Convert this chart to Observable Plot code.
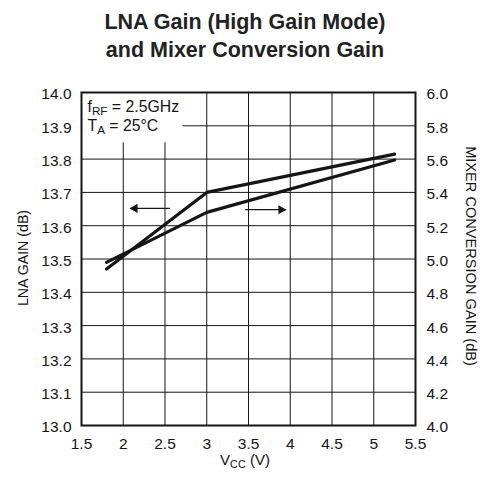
<!DOCTYPE html>
<html>
<head>
<meta charset="utf-8">
<script src="https://cdn.jsdelivr.net/npm/d3@7"></script>
<script src="https://cdn.jsdelivr.net/npm/@observablehq/plot@0.6"></script>
<style>
  body { margin: 0; background: #fff; }
  #title { width: 490px; height: 70px; box-sizing: border-box; padding-top: 8px; text-align: center;
    font: bold 21.5px/28px "Liberation Sans", Arial, sans-serif; color: #222; }
  #chart svg { display: block; }
</style>
</head>
<body>
<div id="title">LNA Gain (High Gain Mode)<br>and Mixer Conversion Gain</div>
<div id="chart"></div>
<script>
const FONT = '"Liberation Sans", Arial, sans-serif';

// Data
const vcc = [1.8, 3.0, 5.25];
const lnaGain = [13.47, 13.70, 13.815];      // left axis (dB)
const mixerGain = [4.98, 5.28, 5.595];       // right axis (dB)

// Axis ticks
const xTicks = [1.5, 2, 2.5, 3, 3.5, 4, 4.5, 5, 5.5];
const lnaTicks = [13.0, 13.1, 13.2, 13.3, 13.4, 13.5, 13.6, 13.7, 13.8, 13.9, 14.0];
const mixerTicks = [4.0, 4.2, 4.4, 4.6, 4.8, 5.0, 5.2, 5.4, 5.6, 5.8, 6.0];

// Annotations (data space)
const arrowsLeft = [{x1: 2.56, x2: 2.08, y: 13.652}];
const arrowsRight = [{x1: 3.46, x2: 3.95, y: 13.648}];
const noteBox = [{x1: 1.5, x2: 2.715, y1: 13.849, y2: 14.0}];
const noteAnchor = {x: 1.578, y1: 13.939, y2: 13.884};

// map mixer gain (4..6) onto the LNA scale (13..14)
const toLeft = m => 13 + (m - 4) / 2;
const fromLeft = v => (v - 13) * 2 + 4;

const lnaData = vcc.map((v, i) => ({vcc: v, gain: lnaGain[i]}));
const mixerData = vcc.map((v, i) => ({vcc: v, gain: toLeft(mixerGain[i])}));

const ink = "#151515";

const chart = Plot.plot({
  width: 490,
  height: 410,
  marginTop: 22,
  marginBottom: 55,
  marginLeft: 81,
  marginRight: 75,
  style: {fontFamily: FONT, fontSize: "15px", color: ink, background: "white"},
  x: {domain: [1.5, 5.5]},
  y: {domain: [13, 14]},
  marks: [
    Plot.gridX(xTicks, {stroke: ink, strokeOpacity: 1, strokeWidth: 1}),
    Plot.gridY(lnaTicks, {stroke: ink, strokeOpacity: 1, strokeWidth: 1}),
    Plot.rect(noteBox, {x1: "x1", x2: "x2", y1: "y1", y2: "y2", fill: "white"}),
    Plot.line(lnaData, {x: "vcc", y: "gain", stroke: ink, strokeWidth: 3.2, strokeLinejoin: "miter"}),
    Plot.line(mixerData, {x: "vcc", y: "gain", stroke: ink, strokeWidth: 3.2, strokeLinejoin: "miter"}),
    Plot.link(arrowsLeft, {x1: "x1", y1: "y", x2: "x2", y2: "y", stroke: ink, strokeWidth: 1.3}),
    Plot.link(arrowsRight, {x1: "x1", y1: "y", x2: "x2", y2: "y", stroke: ink, strokeWidth: 1.3}),
    Plot.dot(arrowsLeft, {x: "x2", y: "y", symbol: "triangle", r: 3.4, rotate: -90, fill: ink, stroke: null, dx: 5}),
    Plot.dot(arrowsRight, {x: "x2", y: "y", symbol: "triangle", r: 3.4, rotate: 90, fill: ink, stroke: null, dx: -5}),
    Plot.frame({stroke: ink, strokeWidth: 2}),
    Plot.axisX(xTicks, {tickSize: 0, tickPadding: 12, tickFormat: d => String(d), label: null, fontSize: 15.5}),
    Plot.axisY(lnaTicks, {anchor: "left", tickSize: 0, tickPadding: 10, tickFormat: d => d.toFixed(1), label: null, fontSize: 15.5, dy: 2}),
    Plot.axisY(mixerTicks.map(toLeft), {anchor: "right", tickSize: 0, tickPadding: 11, tickFormat: d => fromLeft(d).toFixed(1), label: null, fontSize: 15.5, dy: 2})
  ]
});

document.getElementById("chart").appendChild(chart);

const svg = d3.select(chart);
const sx = chart.scale("x");
const sy = chart.scale("y");

// text with a subscript part
function sub(textSel, main, subscript, rest, size, ratio, shift) {
  textSel.append("tspan").text(main);
  textSel.append("tspan").attr("font-size", size * ratio).attr("dy", shift).text(subscript);
  textSel.append("tspan").attr("dy", -shift).text(rest);
}
const nx = sx.apply(noteAnchor.x);
sub(svg.append("text").attr("x", nx).attr("y", sy.apply(noteAnchor.y1)).attr("text-anchor", "start")
  .attr("font-family", FONT).attr("font-size", 15.8).attr("fill", ink),
  "f", "RF", " = 2.5GHz", 15.8, 0.74, 3);
sub(svg.append("text").attr("x", nx).attr("y", sy.apply(noteAnchor.y2)).attr("text-anchor", "start")
  .attr("font-family", FONT).attr("font-size", 15.8).attr("fill", ink),
  "T", "A", " = 25°C", 15.8, 0.74, 3);

// axis titles
svg.append("text")
  .attr("transform", "translate(28,188) rotate(-90)")
  .attr("text-anchor", "middle").attr("font-family", FONT).attr("font-size", 14.2).attr("fill", ink)
  .text("LNA GAIN (dB)");
svg.append("text")
  .attr("transform", "translate(466,186) rotate(90)")
  .attr("text-anchor", "middle").attr("font-family", FONT).attr("font-size", 14.6).attr("fill", ink)
  .text("MIXER CONVERSION GAIN (dB)");
const xl = svg.append("text")
  .attr("x", 245).attr("y", 395)
  .attr("text-anchor", "middle").attr("font-family", FONT).attr("font-size", 15).attr("fill", ink);
sub(xl, "V", "CC", " (V)", 15, 0.72, 3);
</script>
</body>
</html>
